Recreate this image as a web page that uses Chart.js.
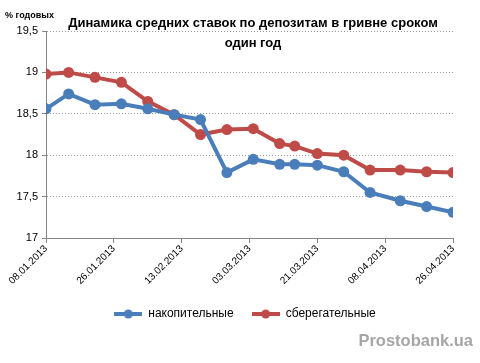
<!DOCTYPE html>
<html>
<head>
<meta charset="utf-8">
<script src="https://cdn.jsdelivr.net/npm/chart.js@4"></script>
<style>
    body { margin: 0; background: #fff; }
    #wrap { position: relative; width: 480px; height: 363px; }
    #chartDeposits { position: absolute; left: 0; top: 0; }
    .txt { position: absolute; font-family: "Liberation Sans", Arial, sans-serif; white-space: nowrap; }
    #chartTitle { left: 0; top: 13px; width: 506px; text-align: center; font-size: 13px; font-weight: bold; line-height: 20px; color: #000; }
    #unitLabel { left: 5px; top: 10px; font-size: 9px; font-weight: bold; color: #000; }
    #siteMark { right: 7px; top: 331px; font-size: 16.5px; font-weight: bold; color: #a6a6a6; }
</style>
</head>
<body>
<div id="wrap">
    <canvas id="chartDeposits" width="480" height="363"></canvas>
    <div id="unitLabel" class="txt">% годовых</div>
    <div id="chartTitle" class="txt">Динамика средних ставок по депозитам в гривне сроком<br>один год</div>
    <div id="siteMark" class="txt">Prostobank.ua</div>
</div>
<script>
/* ----------------------------------------------------------------------------
                                     DATA
---------------------------------------------------------------------------- */
var dates = ['08.01.2013', '14.01.2013', '21.01.2013', '28.01.2013', '04.02.2013',
             '11.02.2013', '18.02.2013', '25.02.2013', '04.03.2013', '11.03.2013',
             '15.03.2013', '21.03.2013', '28.03.2013', '04.04.2013', '12.04.2013',
             '19.04.2013', '26.04.2013'];
var accumValues = [18.56, 18.74, 18.61, 18.62, 18.56, 18.49, 18.43, 17.79, 17.95,
                   17.89, 17.89, 17.88, 17.80, 17.55, 17.45, 17.38, 17.31];
var savingValues = [18.98, 19.00, 18.94, 18.88, 18.65, 18.49, 18.25, 18.31, 18.32,
                    18.14, 18.11, 18.02, 18.00, 17.82, 17.82, 17.80, 17.79];
var seriesNames = ['накопительные', 'сберегательные'];
var yTicks = [17, 17.5, 18, 18.5, 19, 19.5];
var xTickStep = 18;

var blue = '#4a7ebb';
var red = '#be4b48';

/* ----------------------------------------------------------------------------
                                  FUNCTIONS
---------------------------------------------------------------------------- */
var startDay = dayNumber(dates[0]);
var endDay = dayNumber(dates[dates.length - 1]);

function dayNumber(str) {
    var p = str.split('.');
    return Date.UTC(+p[2], +p[1] - 1, +p[0]) / 86400000;
}

function dayLabel(offset) {
    var d = new Date((startDay + offset) * 86400000);
    var two = function(n) { return (n < 10 ? '0' : '') + n; };
    return two(d.getUTCDate()) + '.' + two(d.getUTCMonth() + 1) + '.' + d.getUTCFullYear();
}

function toPoints(values) {
    return values.map(function(v, i) {
        return { x: dayNumber(dates[i]) - startDay, y: v };
    });
}

// line + marker picture for the legend
function legendMark(color) {
    var c = document.createElement('canvas');
    c.width = 28; c.height = 10;
    var g = c.getContext('2d');
    g.strokeStyle = color; g.lineWidth = 4;
    g.beginPath(); g.moveTo(0, 5); g.lineTo(28, 5); g.stroke();
    g.fillStyle = color;
    g.beginPath(); g.arc(14, 5, 4.5, 0, Math.PI * 2); g.fill();
    return c;
}

/* ----------------------------------------------------------------------------
                                    MAIN
---------------------------------------------------------------------------- */
Chart.defaults.font.family = '"Liberation Sans", Arial, sans-serif';
Chart.defaults.color = '#000';

var marks = [legendMark(blue), legendMark(red)];
var ctx = document.getElementById('chartDeposits').getContext('2d');

const chartDeposits = new Chart(ctx, {
    type: 'line',
    data: {
        datasets: [{
            label: seriesNames[0],
            data: toPoints(accumValues),
            borderColor: blue,
            backgroundColor: blue,
            borderWidth: 4,
            pointRadius: 5.5,
            pointBackgroundColor: blue,
            pointBorderWidth: 0,
            tension: 0
        }, {
            label: seriesNames[1],
            data: toPoints(savingValues),
            borderColor: red,
            backgroundColor: red,
            borderWidth: 4,
            pointRadius: 5.5,
            pointBackgroundColor: red,
            pointBorderWidth: 0,
            tension: 0
        }]
    },
    options: {
        responsive: false,
        animation: false,
        layout: {
            padding: { left: 10, right: 0, top: 31, bottom: 33 }
        },
        plugins: {
            tooltip: { enabled: false },
            legend: {
                position: 'bottom',
                labels: {
                    usePointStyle: true,
                    pointStyleWidth: 28,
                    padding: 18,
                    font: { size: 12 },
                    generateLabels: function(chart) {
                        var items = Chart.defaults.plugins.legend.labels.generateLabels(chart);
                        items.forEach(function(it, i) { it.pointStyle = marks[i]; });
                        return items;
                    }
                }
            }
        },
        scales: {
            x: {
                type: 'linear',
                min: 0,
                max: endDay - startDay,
                afterBuildTicks: function(scale) {
                    var t = [];
                    for (var d = 0; d <= endDay - startDay; d += xTickStep) t.push({ value: d });
                    scale.ticks = t;
                },
                afterFit: function(scale) { scale.height = 52; },
                grid: {
                    drawOnChartArea: false,
                    drawTicks: true,
                    tickLength: 5,
                    tickColor: '#868686'
                },
                border: { color: '#868686' },
                ticks: {
                    autoSkip: false,
                    minRotation: 45,
                    maxRotation: 45,
                    padding: 0,
                    font: { size: 10 },
                    callback: function(v) { return dayLabel(v); }
                }
            },
            y: {
                min: yTicks[0],
                max: yTicks[yTicks.length - 1],
                afterBuildTicks: function(scale) {
                    scale.ticks = yTicks.map(function(v) { return { value: v }; });
                },
                afterFit: function(scale) { scale.width = 36; },
                grid: {
                    color: '#9a9a9a',
                    tickColor: '#868686',
                    tickLength: 4,
                    tickBorderDash: [],
                    lineWidth: 1
                },
                border: { color: '#868686', dash: [1, 2] },
                ticks: {
                    padding: 4,
                    font: { size: 11 },
                    callback: function(v) { return String(v).replace('.', ','); }
                }
            },
            // empty right margin, keeps the legend centred like the original
            yRight: {
                position: 'right',
                afterFit: function(scale) { scale.width = 27; },
                grid: { display: false },
                ticks: { display: false },
                border: { display: false }
            }
        }
    }
});
</script>
</body>
</html>
